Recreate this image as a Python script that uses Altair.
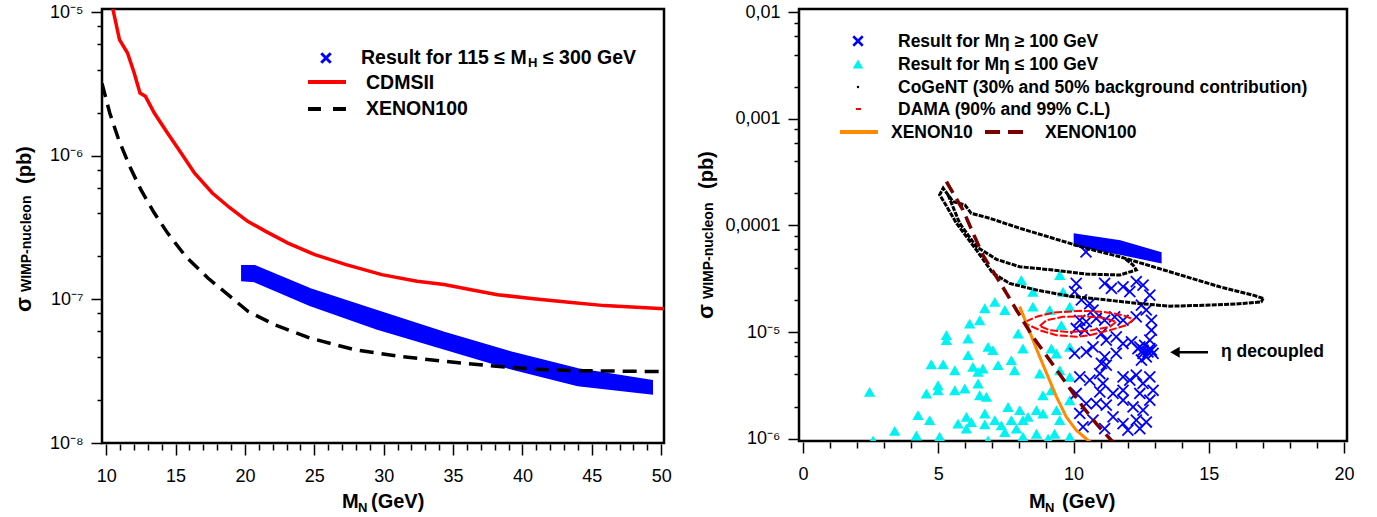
import altair as alt
import pandas as pd

FONT = "Liberation Sans"
BLUE = "#0000FF"
RED = "#FF0000"
CYAN = "#00F2F2"
ORANGE = "#FF8A00"
DARKRED = "#7A0000"
XSHAPE = "M -1 -1 L 1 1 M -1 1 L 1 -1"

# ---------------- left panel: M_N 10-50 GeV ----------------
cdms_x = [10.40, 10.96, 11.54, 12.02, 12.44, 12.83, 13.47, 14.43, 15.40, 16.36, 17.65, 18.93, 20.20,
          21.50, 23.10, 25.04, 27.29, 29.86, 32.40, 34.35, 36.30, 38.20, 40.80, 43.35, 45.90, 50.20]
cdms_y = [1.15e-5, 6.46e-6, 5.21e-6, 3.78e-6, 2.74e-6, 2.60e-6, 1.99e-6, 1.44e-6, 1.05e-6, 7.6e-7,
          5.52e-7, 4.34e-7, 3.50e-7, 2.98e-7, 2.47e-7, 2.05e-7, 1.75e-7, 1.49e-7, 1.34e-7, 1.27e-7,
          1.17e-7, 1.08e-7, 1.01e-7, 9.55e-8, 9.06e-8, 8.63e-8]

xe100_x = [9.70, 10.26, 10.90, 11.70, 12.50, 13.47, 14.43, 15.72, 17.33, 18.93, 20.22, 22.14, 24.70,
           27.90, 31.10, 34.35, 37.56, 40.80, 44.00, 50.20]
xe100_y = [3.2e-6, 1.99e-6, 1.30e-6, 8.45e-7, 5.82e-7, 4.0e-7, 2.90e-7, 2.0e-7, 1.41e-7, 1.05e-7,
           8.26e-8, 6.67e-8, 5.38e-8, 4.47e-8, 4.02e-8, 3.71e-8, 3.46e-8, 3.27e-8, 3.19e-8, 3.14e-8]

# band of model points for 115 <= M_H <= 300 GeV
band_x = [19.83, 20.70, 24.70, 29.50, 34.35, 39.20, 44.00, 49.30]
band_hi = [1.70e-7, 1.70e-7, 1.17e-7, 8.26e-8, 5.83e-8, 4.24e-8, 3.24e-8, 2.69e-8]
band_lo = [1.37e-7, 1.35e-7, 9.2e-8, 6.32e-8, 4.59e-8, 3.33e-8, 2.54e-8, 2.23e-8]

# ---------------- right panel: M_N 0-20 GeV ----------------
tri_x = [8.07, 9.49, 8.50, 9.61, 6.72, 7.09, 7.46, 8.50, 9.12, 9.86, 6.16, 6.53, 7.95, 9.55, 5.30, 5.30,
         6.10, 6.84, 7.02, 8.13, 9.18, 9.37, 9.86, 4.74, 5.18, 5.61, 6.10, 6.28, 6.47, 6.65, 7.21, 7.70,
         7.82, 2.46, 4.56, 4.99, 4.99, 5.61, 5.98, 6.47, 6.53, 6.78, 8.75, 8.87, 9.18, 9.49, 9.86, 4.25,
         4.68, 3.39, 4.19, 5.05, 5.73, 6.04, 6.22, 6.72, 6.72, 7.09, 7.33, 7.58, 7.70, 8.01, 8.13, 8.32,
         8.63, 8.87, 9.37, 9.49, 9.86, 7.46, 7.89, 8.63, 9.30, 6.04, 2.59, 6.84, 8.13, 9.86, 9.06]
tri_y = [3.08e-5, 3.43e-5, 2.39e-5, 2.39e-5, 1.67e-5, 1.92e-5, 1.61e-5, 1.73e-5, 1.61e-5, 1.73e-5,
         1.20e-5, 1.29e-5, 9.7e-6, 1.16e-5, 9.35e-6, 8.4e-6, 8.7e-6, 7.26e-6, 6.76e-6, 7.0e-6, 7.0e-6,
         6.29e-6, 7.26e-6, 4.99e-6, 4.99e-6, 4.38e-6, 6.07e-6, 4.71e-6, 4.23e-6, 4.55e-6, 4.89e-6,
         5.45e-6, 4.38e-6, 2.74e-6, 2.65e-6, 3.17e-6, 2.84e-6, 2.84e-6, 2.95e-6, 3.29e-6, 2.55e-6,
         2.46e-6, 4.08e-6, 2.55e-6, 2.84e-6, 4.38e-6, 3.79e-6, 1.66e-6, 1.49e-6, 1.18e-6, 1.07e-6,
         1.04e-6, 1.38e-6, 1.60e-6, 1.43e-6, 1.72e-6, 1.36e-6, 1.49e-6, 1.33e-6, 1.98e-6, 1.49e-6,
         1.85e-6, 1.49e-6, 1.60e-6, 1.85e-6, 1.72e-6, 1.85e-6, 1.49e-6, 2.29e-6, 1.15e-6, 1.24e-6,
         1.11e-6, 1.11e-6, 1.24e-6, 9.6e-7, 9.6e-7, 1.04e-6, 1.04e-6, 1.0e-6]

cross_x = [10.10, 10.04, 10.29, 10.60, 10.72, 11.15, 11.40, 11.83, 12.08, 12.32, 12.57, 12.82, 12.51,
           12.69, 12.88, 10.23, 10.47, 10.84, 11.15, 11.52, 11.83, 12.32,
           10.10, 10.41, 11.03, 11.21, 11.58, 11.83, 12.14, 12.38, 12.57, 12.82, 12.94, 12.69, 12.51,
           11.58, 11.15, 11.03, 10.04, 10.47, 10.72, 12.88, 12.82, 12.45, 12.63, 12.75, 12.88, 12.57,
           10.23, 10.60, 10.97, 11.21, 11.09, 11.83, 12.08, 12.32, 12.57, 12.82, 12.94, 12.82, 12.45,
           11.83, 11.46, 10.97, 10.10, 10.47, 10.84, 11.21, 11.83, 12.20, 12.57, 10.23, 10.72, 11.46,
           11.83, 12.32, 12.69, 12.01, 12.45, 11.15, 10.35, 10.46]
cross_y = [2.86e-5, 2.39e-5, 2.0e-5, 1.85e-5, 1.61e-5, 2.86e-5, 2.57e-5, 2.66e-5, 2.39e-5, 2.97e-5,
           2.76e-5, 2.22e-5, 1.79e-5, 1.61e-5, 1.29e-5, 1.29e-5, 1.25e-5, 1.34e-5, 1.29e-5, 1.39e-5,
           1.29e-5, 1.39e-5,
           1.08e-5, 1.04e-5, 9.7e-6, 8.4e-6, 9.0e-6, 7.8e-6, 8.1e-6, 7.0e-6, 6.76e-6, 7.0e-6, 6.3e-6,
           5.85e-6, 5.45e-6, 6.3e-6, 5.85e-6, 5.07e-6, 6.3e-6, 6.5e-6, 7.26e-6, 1.04e-5, 8.4e-6,
           7.26e-6, 7.5e-6, 6.5e-6, 6.76e-6, 6.3e-6,
           3.79e-6, 3.53e-6, 4.08e-6, 4.89e-6, 3.29e-6, 3.79e-6, 3.53e-6, 3.94e-6, 3.29e-6, 3.79e-6,
           2.84e-6, 2.29e-6, 2.65e-6, 2.84e-6, 2.65e-6, 2.74e-6, 2.65e-6, 2.13e-6, 2.13e-6, 2.06e-6,
           2.29e-6, 1.98e-6, 1.85e-6, 1.72e-6, 1.49e-6, 1.60e-6, 1.38e-6, 1.49e-6, 1.43e-6, 1.20e-6,
           1.24e-6, 1.24e-6, 1.29e-6, 5.64e-5]

# dense strip of model points for large M_eta
strip_x = [10.06, 11.72, 13.20]
strip_hi = [8.15e-5, 7.05e-5, 5.48e-5]
strip_lo = [6.56e-5, 5.48e-5, 4.57e-5]

# CoGeNT regions
cog_out_x = [17.01, 16.64, 15.40, 14.17, 12.94, 11.71, 10.47, 9.24, 8.01, 6.90, 6.22, 5.98, 5.55, 5.18,
             5.05, 5.24, 5.67, 6.41, 7.02, 7.64, 8.63, 9.86, 11.09, 12.32, 13.56, 14.79, 16.02, 16.94,
             17.01]
cog_out_y = [2.07e-5, 2.22e-5, 2.66e-5, 3.30e-5, 4.10e-5, 5.09e-5, 6.11e-5, 7.59e-5, 9.42e-5, 1.17e-4,
             1.30e-4, 1.56e-4, 1.67e-4, 2.24e-4, 1.94e-4, 1.62e-4, 1.05e-4, 5.89e-5, 3.56e-5, 2.86e-5,
             2.48e-5, 2.17e-5, 2.02e-5, 1.86e-5, 1.75e-5, 1.78e-5, 1.83e-5, 1.92e-5, 2.07e-5]
cog_in_x = [5.36, 5.79, 6.41, 7.15, 8.01, 9.24, 10.47, 11.71, 12.32, 12.20, 11.90]
cog_in_y = [1.94e-4, 1.05e-4, 6.32e-5, 4.81e-5, 4.10e-5, 3.82e-5, 3.50e-5, 3.43e-5, 3.82e-5, 4.26e-5,
            4.90e-5]

# DAMA regions
dama99_x = [8.23, 8.63, 9.24, 10.23, 11.09, 11.83, 12.22, 11.95, 11.34, 10.60, 10.10, 9.37, 8.75, 8.23, 8.23]
dama99_y = [1.25e-5, 1.39e-5, 1.52e-5, 1.58e-5, 1.55e-5, 1.44e-5, 1.31e-5, 1.16e-5, 1.04e-5, 9.35e-6,
            9.02e-6, 9.35e-6, 1.04e-5, 1.20e-5, 1.25e-5]
dama90_x = [8.75, 9.00, 9.61, 10.35, 11.09, 11.58, 11.34, 10.60, 9.86, 9.12, 8.75]
dama90_y = [1.14e-5, 1.29e-5, 1.39e-5, 1.41e-5, 1.36e-5, 1.25e-5, 1.12e-5, 1.03e-5, 1.00e-5, 1.04e-5,
            1.14e-5]

xe10_x = [8.01, 8.26, 8.50, 8.75, 9.06, 9.37, 9.73, 10.10, 10.54, 10.70]
xe10_y = [1.73e-5, 1.20e-5, 8.4e-6, 5.85e-6, 3.79e-6, 2.46e-6, 1.60e-6, 1.20e-6, 9.6e-7, 9.0e-7]

xe100r_x = [5.30, 5.91, 6.65, 7.27, 7.89, 8.50, 9.12, 9.73, 10.35, 10.84, 11.40, 11.50]
xe100r_y = [2.58e-4, 1.40e-4, 5.25e-5, 2.95e-5, 1.61e-5, 9.0e-6, 5.45e-6, 3.29e-6, 1.98e-6, 1.38e-6,
            9.6e-7, 9.2e-7]

# "eta decoupled" arrow
arrow_x = [13.75, 14.97]
arrow_y = 6.47e-6


def frame(xs, ys):
    return pd.DataFrame({"x": xs, "y": ys, "i": range(len(xs))})


ONE = pd.DataFrame({"k": [0]})
MAJ = "abs(datum.value / pow(10, round(log(datum.value) / LN10)) - 1) < 0.01"


def log_labels(names):
    e = "round(log(datum.value) / LN10)"
    expr = "''"
    for k, s in names.items():
        expr = f"({e} == {k} ? '{s}' : {expr})"
    return f"({MAJ}) ? {expr} : ''"


def x_axis(lo, hi):
    return alt.Axis(values=list(range(lo, hi + 1)),
                    labelExpr="datum.value % 5 == 0 ? datum.label : ''",
                    tickSize={"condition": {"test": "datum.value % 5 == 0", "value": 11}, "value": 6},
                    offset=1, title=None, domain=False, grid=False, labelFont=FONT, labelFontSize=18,
                    labelColor="black", labelPadding=12, tickColor="black", tickWidth=1.5,
                    labelOverlap=False, labelFlush=False)


def y_axis(emin, emax, names):
    vals = [k * 10.0 ** e for e in range(emin, emax) for k in (1, 2, 4, 6, 8)] + [10.0 ** emax]
    return alt.Axis(values=vals, labelExpr=log_labels(names),
                    tickSize={"condition": {"test": MAJ, "value": 11}, "value": 5},
                    title=None, domain=False, grid=False, labelFont=FONT, labelFontSize=18,
                    labelColor="black", labelPadding=8, tickColor="black", tickWidth=1.5,
                    labelOverlap=False, labelFlush=False)


def text(s, x, y, size, weight="bold", angle=0, baseline="middle", align="left"):
    return alt.Chart(ONE).mark_text(text=s, font=FONT, fontSize=size, fontWeight=weight, angle=angle,
                                    baseline=baseline, align=align, color="black").encode(
        x=alt.value(x), y=alt.value(y))


def seg(x1, x2, y, color, width, dash=None):
    kw = dict(color=color, strokeWidth=width)
    if dash:
        kw["strokeDash"] = dash
    return alt.Chart(ONE).mark_rule(**kw).encode(x=alt.value(x1), x2=alt.value(x2), y=alt.value(y))


def symbol(x, y, **kw):
    return alt.Chart(ONE).mark_point(**kw).encode(x=alt.value(x), y=alt.value(y))


# ---------------- left chart ----------------
LXS = alt.Scale(domain=[9.7, 50.2], nice=False, zero=False)
LYS = alt.Scale(type="log", domain=[1e-8, 1.056e-5], nice=False)
LXA = x_axis(10, 50)
LYA = y_axis(-8, -5, {-5: "10⁻⁵", -6: "10⁻⁶", -7: "10⁻⁷", -8: "10⁻⁸"})


def lx(f="x"):
    return alt.X(f"{f}:Q", scale=LXS, axis=LXA)


def ly(f="y"):
    return alt.Y(f"{f}:Q", scale=LYS, axis=LYA)


band = alt.Chart(pd.DataFrame({"x": band_x, "hi": band_hi, "lo": band_lo})).mark_area(
    color=BLUE, stroke=BLUE, strokeWidth=3, clip=True).encode(x=lx(), y=ly("hi"), y2="lo:Q")
cdms = alt.Chart(frame(cdms_x, cdms_y)).mark_line(color=RED, strokeWidth=3.5, clip=True).encode(
    x=lx(), y=ly(), order="i:Q")
xe100 = alt.Chart(frame(xe100_x, xe100_y)).mark_line(
    color="black", strokeWidth=3.5, strokeDash=[14, 8], clip=True).encode(x=lx(), y=ly(), order="i:Q")

left = alt.layer(
    band, cdms, xe100,
    symbol(224, 49, shape=XSHAPE, size=90, filled=False, stroke=BLUE, strokeWidth=3, opacity=1),
    text("Result for 115 ≤ M", 259, 49, 19.5),
    text("H", 426, 54, 13),
    text("≤ 300 GeV", 441, 49, 19.5),
    seg(206, 244, 73, RED, 4),
    text("CDMSII", 264, 74, 19.5),
    seg(206, 244, 100, "black", 4, [13, 12]),
    text("XENON100", 264, 99.5, 19.5),
    # axis titles
    text("M", 240, 499, 20, baseline="alphabetic"),
    text("N", 256, 503, 13, baseline="alphabetic"),
    text("(GeV)", 269, 499, 20, baseline="alphabetic"),
    text("σ", -71, 303, 22, angle=270, baseline="alphabetic"),
    text("WIMP-nucleon", -71, 283, 14, angle=270, baseline="alphabetic"),
    text("(pb)", -71, 175, 20, angle=270, baseline="alphabetic"),
).properties(width=562, height=434)

# ---------------- right chart ----------------
RXS = alt.Scale(domain=[-0.15, 20.11], nice=False, zero=False)
RYS = alt.Scale(type="log", domain=[9.49e-7, 1.076e-2], nice=False)
RXA = x_axis(0, 20)
RYA = y_axis(-6, -2, {-2: "0,01", -3: "0,001", -4: "0,0001", -5: "10⁻⁵", -6: "10⁻⁶"})


def rx(f="x"):
    return alt.X(f"{f}:Q", scale=RXS, axis=RXA)


def ry(f="y"):
    return alt.Y(f"{f}:Q", scale=RYS, axis=RYA)


def rline(xs, ys, color, width, dash=None):
    kw = dict(color=color, strokeWidth=width, clip=True)
    if dash:
        kw["strokeDash"] = dash
    return alt.Chart(frame(xs, ys)).mark_line(**kw).encode(x=rx(), y=ry(), order="i:Q")


tris = alt.Chart(frame(tri_x, tri_y)).mark_point(
    shape="triangle-up", filled=True, color=CYAN, size=130, opacity=1, clip=True).encode(x=rx(), y=ry())
crosses = alt.Chart(frame(cross_x, cross_y)).mark_point(
    shape=XSHAPE, filled=False, color=BLUE, size=120, strokeWidth=1.8, opacity=1, clip=True).encode(
    x=rx(), y=ry())
strip = alt.Chart(pd.DataFrame({"x": strip_x, "hi": strip_hi, "lo": strip_lo})).mark_area(
    color=BLUE, stroke=BLUE, strokeWidth=3, clip=True).encode(x=rx(), y=ry("hi"), y2="lo:Q")
arrow = alt.Chart(pd.DataFrame({"x": [arrow_x[0]], "x2": [arrow_x[1]], "y": [arrow_y]})).mark_rule(
    color="black", strokeWidth=2.5).encode(x=rx(), x2="x2:Q", y=ry())
arrow_head = alt.Chart(pd.DataFrame({"x": [arrow_x[0]], "y": [arrow_y]})).mark_point(
    shape="triangle-left", filled=True, color="black", size=120, opacity=1).encode(x=rx(), y=ry())
eta_label = alt.Chart(pd.DataFrame({"x": [15.45], "y": [arrow_y]})).mark_text(
    text="η decoupled", font=FONT, fontSize=17.5, fontWeight="bold", align="left",
    baseline="middle", color="black").encode(x=rx(), y=ry())

right = alt.layer(
    tris, crosses, strip,
    rline(cog_out_x, cog_out_y, "black", 3, [5, 1.2]),
    rline(cog_in_x, cog_in_y, "black", 3, [5, 1.2]),
    rline(dama99_x, dama99_y, RED, 2, [8, 2]),
    rline(dama90_x, dama90_y, RED, 2, [8, 2]),
    rline(xe10_x, xe10_y, ORANGE, 3),
    rline(xe100r_x, xe100r_y, DARKRED, 3.5, [13, 7]),
    arrow, arrow_head, eta_label,
    symbol(59, 32, shape=XSHAPE, size=90, filled=False, stroke=BLUE, strokeWidth=2.5, opacity=1),
    text("Result for Mη ≥ 100 GeV", 99, 32.5, 17.5),
    symbol(59, 55, shape="triangle-up", size=110, filled=True, color=CYAN, opacity=1),
    text("Result for Mη ≤ 100 GeV", 99, 56, 17.5),
    symbol(59, 78, shape="circle", size=6, filled=True, color="black", opacity=1),
    text("CoGeNT (30% and 50% background contribution)", 99, 78.5, 17.5),
    seg(57, 62, 100, RED, 2),
    text("DAMA (90% and 99% C.L)", 99, 101, 17.5),
    seg(41, 79, 123, ORANGE, 4),
    text("XENON10", 92, 123.5, 17.5),
    seg(186, 224, 123, DARKRED, 4, [15, 8]),
    text("XENON100", 246, 123.5, 17.5),
    # axis titles
    text("M", 230, 499, 20, baseline="alphabetic"),
    text("N", 246, 503, 13, baseline="alphabetic"),
    text("(GeV)", 263, 499, 20, baseline="alphabetic"),
    text("σ", -86, 310, 22, angle=270, baseline="alphabetic"),
    text("WIMP-nucleon", -86, 290, 14, angle=270, baseline="alphabetic"),
    text("(pb)", -86, 180, 20, angle=270, baseline="alphabetic"),
).properties(width=548, height=432)

chart = alt.hconcat(left, right, spacing=20).configure_view(
    stroke="black", strokeWidth=2.5).properties(padding={"left": 11, "top": 2, "right": 0, "bottom": 0})

chart.save("out.html", embed_options={"renderer": "svg", "actions": False})
